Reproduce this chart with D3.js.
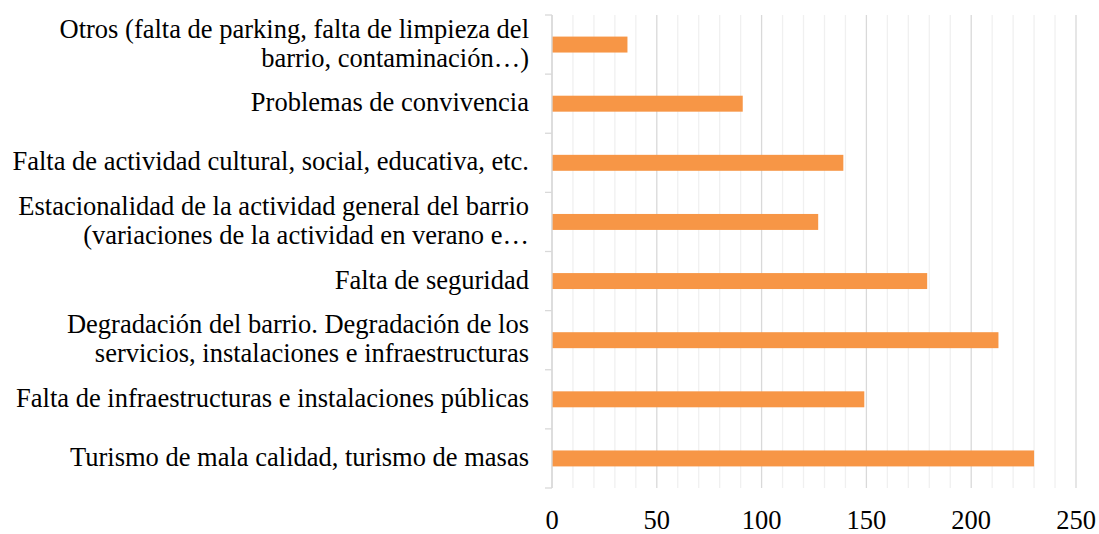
<!DOCTYPE html>
<html>
<head>
<meta charset="utf-8">
<script src="https://cdn.jsdelivr.net/npm/d3@7"></script>
<style>
  html, body { margin: 0; padding: 0; background: #fff; }
</style>
</head>
<body>
<div id="chart"></div>
<script>
  // categories, top to bottom (line breaks as in the picture)
  const categories = [
    "Otros (falta de parking, falta de limpieza del\nbarrio, contaminaci\u00f3n\u2026)",
    "Problemas de convivencia",
    "Falta de actividad cultural, social, educativa, etc.",
    "Estacionalidad de la actividad general del barrio\n(variaciones de la actividad en verano e\u2026",
    "Falta de seguridad",
    "Degradaci\u00f3n del barrio. Degradaci\u00f3n de los\nservicios, instalaciones e infraestructuras",
    "Falta de infraestructuras e instalaciones p\u00fablicas",
    "Turismo de mala calidad, turismo de masas"
  ];
  const values = [36, 91, 139, 127, 179, 213, 149, 230];
  const xTicks = [0, 50, 100, 150, 200, 250];

  const FONT = '"Liberation Serif", "Times New Roman", serif';

  const width = 1099, height = 534;
  const margin = { top: 15, left: 552 };
  const plotW = 1076 - margin.left;
  const plotH = 488 - margin.top;

  const svg = d3.select("#chart").append("svg")
    .attr("width", width)
    .attr("height", height);

  const g = svg.append("g")
    .attr("transform", `translate(${margin.left},${margin.top})`);

  const x = d3.scaleLinear().domain([0, 250]).range([0, plotW]);

  const yOuter = d3.scaleBand().domain(categories).range([0, plotH]).padding(0);
  const y = d3.scaleBand().domain(categories).range([0, plotH])
    .paddingInner(0.73).paddingOuter(0.365);

  // minor gridlines every 10
  g.selectAll("line.minor")
    .data(d3.range(10, 251, 10).filter(v => v % 50 !== 0))
    .enter().append("line")
    .attr("class", "minor")
    .attr("x1", d => x(d)).attr("x2", d => x(d))
    .attr("y1", 0).attr("y2", plotH)
    .style("stroke", "#f0f0f0")
    .style("stroke-width", "1.3px");

  // major gridlines
  g.selectAll("line.major")
    .data(xTicks)
    .enter().append("line")
    .attr("class", "major")
    .attr("x1", d => x(d)).attr("x2", d => x(d))
    .attr("y1", 0).attr("y2", plotH)
    .style("stroke", "#d9d9d9")
    .style("stroke-width", "1.3px");

  // bars
  g.selectAll("rect.bar")
    .data(values)
    .enter().append("rect")
    .attr("class", "bar")
    .attr("x", x(0))
    .attr("y", (d, i) => y(categories[i]))
    .attr("width", d => x(d))
    .attr("height", y.bandwidth())
    .style("fill", "#f79646");

  // category axis line + tick marks at band edges
  g.append("line")
    .attr("x1", 0).attr("x2", 0)
    .attr("y1", 0).attr("y2", plotH)
    .style("stroke", "#d9d9d9")
    .style("stroke-width", "1.3px");

  const edges = categories.map(c => yOuter(c)).concat([plotH]);
  g.selectAll("line.ytick")
    .data(edges)
    .enter().append("line")
    .attr("class", "ytick")
    .attr("x1", -7).attr("x2", 0)
    .attr("y1", d => d).attr("y2", d => d)
    .style("stroke", "#d9d9d9")
    .style("stroke-width", "1.3px");

  // category labels
  const fontSize = 26.5;
  const lineH = 29;
  const labels = g.selectAll("text.cat")
    .data(categories)
    .enter().append("text")
    .attr("class", "cat")
    .attr("text-anchor", "end")
    .style("font-family", FONT)
    .style("font-size", fontSize + "px")
    .style("fill", "#000");

  labels.each(function (c) {
    const lines = c.split("\n");
    const cy = yOuter(c) + yOuter.bandwidth() / 2;
    const first = cy - (lines.length - 1) * lineH / 2;
    d3.select(this).selectAll("tspan")
      .data(lines)
      .enter().append("tspan")
      .attr("x", -23)
      .attr("y", (l, i) => first + i * lineH)
      .attr("dy", "0.29em")
      .text(l => l);
  });

  // value axis labels
  g.selectAll("text.xt")
    .data(xTicks)
    .enter().append("text")
    .attr("class", "xt")
    .attr("x", d => x(d))
    .attr("y", plotH + 41)
    .attr("text-anchor", "middle")
    .style("font-family", FONT)
    .style("font-size", fontSize + "px")
    .style("fill", "#000")
    .text(d => d);
</script>
</body>
</html>
